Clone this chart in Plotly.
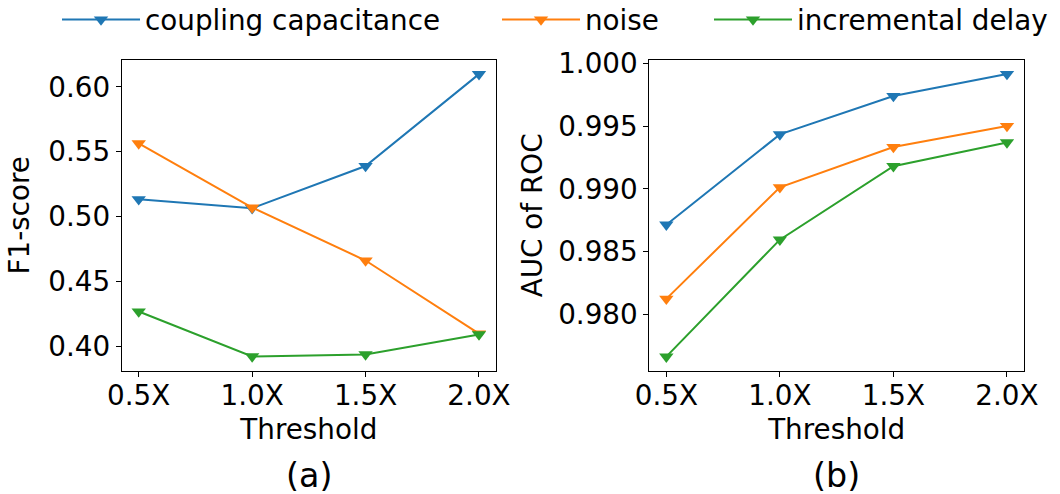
import plotly.graph_objects as go

thresholds = ["0.5X", "1.0X", "1.5X", "2.0X"]
series_names = ["coupling capacitance", "noise", "incremental delay"]
colors = ["#1f77b4", "#ff7f0e", "#2ca02c"]

f1_coupling = [0.5134, 0.5065, 0.5390, 0.6098]
f1_noise = [0.5564, 0.5070, 0.4662, 0.4098]
f1_delay = [0.4269, 0.3923, 0.3938, 0.4092]

auc_coupling = [0.98715, 0.99434, 0.99739, 0.99914]
auc_noise = [0.98125, 0.99013, 0.99333, 0.99500]
auc_delay = [0.97665, 0.98596, 0.99181, 0.99370]

f1_series = [f1_coupling, f1_noise, f1_delay]
auc_series = [auc_coupling, auc_noise, auc_delay]

W, H = 1060, 494
FONT = "DejaVu Sans"
FS = 27.8

fig = go.Figure()
legend_ids = ["legend", "legend2", "legend3"]
for name, ys, col, lg in zip(series_names, f1_series, colors, legend_ids):
    fig.add_trace(go.Scatter(
        x=thresholds, y=ys, name=name, mode="lines+markers",
        line=dict(color=col, width=2),
        marker=dict(symbol="triangle-down", size=12.5, color=col),
        xaxis="x", yaxis="y", legend=lg, showlegend=True,
    ))
for name, ys, col in zip(series_names, auc_series, colors):
    fig.add_trace(go.Scatter(
        x=thresholds, y=ys, name=name, mode="lines+markers",
        line=dict(color=col, width=2),
        marker=dict(symbol="triangle-down", size=12.5, color=col),
        xaxis="x2", yaxis="y2", showlegend=False,
    ))

axis_common = dict(
    showline=True, mirror=True, linecolor="black", linewidth=1,
    ticks="outside", ticklen=5, tickwidth=1, tickcolor="black",
    showgrid=False, zeroline=False, automargin=False,
    tickfont=dict(family=FONT, size=FS, color="black"),
)

y_dom = [1 - 370.7 / H, 1 - 60 / H]

fig.update_layout(
    width=W, height=H,
    margin=dict(l=0, r=0, t=0, b=0, autoexpand=False),
    paper_bgcolor="white", plot_bgcolor="white",
    font=dict(family=FONT, size=FS, color="black"),
    xaxis=dict(domain=[121.7 / W, 496 / W], type="category", range=[-0.15, 3.15],
               title=dict(text="Threshold", font=dict(size=FS), standoff=8),
               ticklabelstandoff=-5,
               anchor="y", **axis_common),
    yaxis=dict(domain=y_dom, range=[0.3813, 0.6207], tickvals=[0.40, 0.45, 0.50, 0.55, 0.60],
               tickformat=".2f",
               title=dict(text="F1-score", font=dict(size=FS), standoff=10),
               anchor="x", **axis_common),
    xaxis2=dict(domain=[649.3 / W, 1024 / W], type="category", range=[-0.15, 3.15],
                title=dict(text="Threshold", font=dict(size=FS), standoff=8),
                ticklabelstandoff=-5,
                anchor="y2", **axis_common),
    yaxis2=dict(domain=y_dom, range=[0.97553, 1.00026],
                tickvals=[0.980, 0.985, 0.990, 0.995, 1.000], tickformat=".3f",
                title=dict(text="AUC of ROC", font=dict(size=FS), standoff=7),
                anchor="x2", **axis_common),
)

legend_x = [57, 497, 709]
for lg, lx in zip(legend_ids, legend_x):
    fig.update_layout({lg: dict(
        x=lx / W, xanchor="left", y=1 - 20 / H, yanchor="middle",
        orientation="h", bgcolor="rgba(0,0,0,0)", borderwidth=0,
        itemwidth=78,
        font=dict(family=FONT, size=FS, color="black"),
    )})

for xref, label in [("x domain", "(a)"), ("x2 domain", "(b)")]:
    fig.add_annotation(text=label, xref=xref, x=0.5, xanchor="center",
                       yref="paper", y=1 - 475 / H, yanchor="middle",
                       borderpad=0,
                       showarrow=False, font=dict(family=FONT, size=33.3, color="black"))

fig.write_html("out.html")
